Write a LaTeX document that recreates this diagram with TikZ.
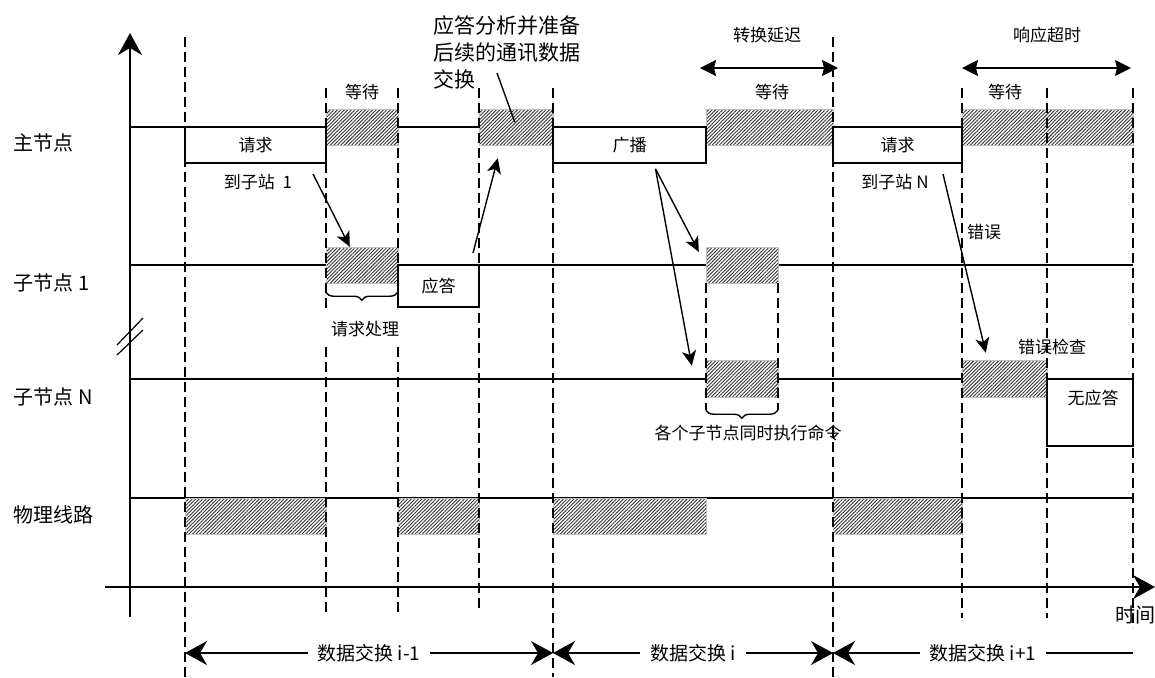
\documentclass[tikz,border=0pt]{standalone}
\usepackage{fontspec}
\setmainfont{Noto Sans CJK SC}
\usetikzlibrary{calc,positioning,fit,arrows.meta,patterns.meta,decorations.pathreplacing}

\begin{document}
\begin{tikzpicture}[x=0.5pt,y=-0.5pt,line width=0.7pt]

\tikzset{rowlab/.style={font=\fontsize{10}{12}\selectfont,anchor=west,inner sep=0},
lab/.style={font=\fontsize{8.5}{10}\selectfont,inner sep=1pt},
msgbox/.style={draw,fill=white,inner sep=0,line width=0.9pt},
hatchbox/.style={inner sep=0,draw=gray!50,line width=0.2pt,preaction={fill=white},
  pattern={Lines[angle=45,distance=1.25pt,line width=0.45pt]},pattern color=black!80},
dashline/.style={dash pattern=on 5pt off 2.5pt,line width=0.7pt},
ptr/.style={-{Stealth[length=7.5pt,width=7pt,inset=2pt]}},
spanarrow/.style={{Stealth[length=8pt,width=8pt,inset=1pt]}-{Stealth[length=8pt,width=8pt,inset=1pt]}},
phasearrow/.style={{Stealth[length=11pt,width=12pt,inset=3.5pt]}-{Stealth[length=11pt,width=12pt,inset=3.5pt]}},
timeaxis/.style={line width=1pt,-{Stealth[length=11pt,width=12pt,inset=3.5pt]}}}

\useasboundingbox (0,0) rectangle (1155,677);

% Axes
\draw[timeaxis] (130,617) -- (130,33);
\draw[timeaxis] (105,587) -- (1155,587);
\draw[line width=0.6pt] (117,345) -- (143,318);
\draw[line width=0.6pt] (117,355) -- (143,330);

% Row lines
\foreach \y in {127, 265, 379, 498}
	\draw (130,\y) -- (1133,\y);

% Row labels
\node[rowlab] (rmain) at (13,143) {主节点};
\node[rowlab] (rsub1) at (13,283) {子节点 1};
\node[rowlab] (rsubN) at (13,397) {子节点 N};
\node[rowlab] (rphys) at (13,515) {物理线路};

% Hatched slots
\foreach \n/\xa/\ya/\xb/\yb in {mw1/326/109/398/145, mw2/479/109/553/145, mw3/706/109/833/145, mw4/962/109/1133/145,
	s1p/326/247/398/283, s1x/706/247/778/283, sNx/706/360/778/397, sNe/962/360/1047/397,
	ph1/185/498/326/534, ph2/398/498/479/534, ph3/553/498/706/534, ph4/833/498/962/534}
	\node[hatchbox,fit={(\xa,\ya) (\xb,\yb)}] (\n) {};

% Message boxes
\node[msgbox,fit={(185,127) (326,163)}] (req1) {};
\node[msgbox,fit={(553,127) (706,163)}] (bcast) {};
\node[msgbox,fit={(833,127) (962,163)}] (reqN) {};
\node[msgbox,fit={(398,265) (479,307)}] (resp1) {};
\node[msgbox,fit={(1047,379) (1133,446)}] (noresp) {};
\foreach \u/\lab in {req1/请求, bcast/广播, reqN/请求, resp1/应答}
	\node[lab] at (\u.center) {\lab};
\node[lab] (norespl) at (1093,398) {无应答};

% Dashed time marks
\foreach \x/\ya/\yb in {185/37/677, 326/88/310, 326/347/612, 398/88/310, 398/347/612, 479/88/612,
	553/88/677, 706/283/410, 778/283/410, 833/37/677, 962/88/618, 1047/88/618, 1133/88/628}
	\draw[dashline] (\x,\ya) -- (\x,\yb);

% Slot labels
\foreach \x/\y/\lab in {362/92/等待, 772/92/等待, 1005/92/等待, 767/35/转换延迟, 1047/35/响应超时,
	258/182/到子站\ \ 1, 895/182/到子站 N, 984/232/错误, 1052/347/错误检查, 365/329/请求处理}
	\node[lab] at (\x,\y) {\lab};
\node[lab] (simul) at (748,433) {各个子节点同时执行命令};
\node[lab,font=\fontsize{10}{12}\selectfont] (tlab) at (1135,615) {时间};
\node[anchor=north west,inner sep=0,align=left,font=\fontsize{10.5}{13.5}\selectfont] (note) at (433,15)
	{应答分析并准备\\后续的通讯数据\\交换};

% Braces
\draw[decorate,decoration={brace,amplitude=4pt,mirror}] (s1p.south west) ++(0,9) -- ++(72,0);
\draw[decorate,decoration={brace,amplitude=4pt,mirror}] (sNx.south west) ++(0,13) -- ++(72,0);

% Delay spans
\coordinate (cd0) at (700,68);
\coordinate (cd1) at (838,68);
\coordinate (to0) at (962,68);
\coordinate (to1) at (1131,68);
\draw[spanarrow] (cd0) -- (cd1);
\draw[spanarrow] (to0) -- (to1);

% Pointers
\coordinate (p1) at (313,174);
\coordinate (p2) at (473,253);
\coordinate (p3) at (497,73);
\coordinate (pb) at ($(bcast.south)+(26,5)$);
\coordinate (pe) at (943,174);
\draw[ptr] (p1) -- ($(s1p.north west)+(24,0)$);
\draw[ptr] (p2) -- ($(mw2.south west)+(19,13)$);
\draw (p3) -- ($(mw2.west)+(36,-5)$);
\draw[ptr] (pb) -- ($(s1x.north west)+(-7,5)$);
\draw[ptr] (pb) -- ($(sNx.north west)+(-14,6)$);
\draw[ptr] (pe) -- ($(sNe.north west)+(24,-7)$);

% Data exchange phases
\foreach \n/\x in {x0/185, x1/553, x2/833, x3/1133}
	\coordinate (\n) at (\x,653);
\draw[phasearrow] (x0) -- (x1) node[midway,fill=white,inner xsep=5pt,font=\fontsize{9.5}{11}\selectfont] {数据交换 i-1};
\draw[phasearrow] (x1) -- (x2) node[midway,fill=white,inner xsep=5pt,font=\fontsize{9.5}{11}\selectfont] {数据交换 i};
\draw[{Stealth[length=11pt,width=12pt,inset=3.5pt]}-] (x2) -- (x3) node[midway,fill=white,inner xsep=5pt,font=\fontsize{9.5}{11}\selectfont] {数据交换 i+1};
\end{tikzpicture}
\end{document}
